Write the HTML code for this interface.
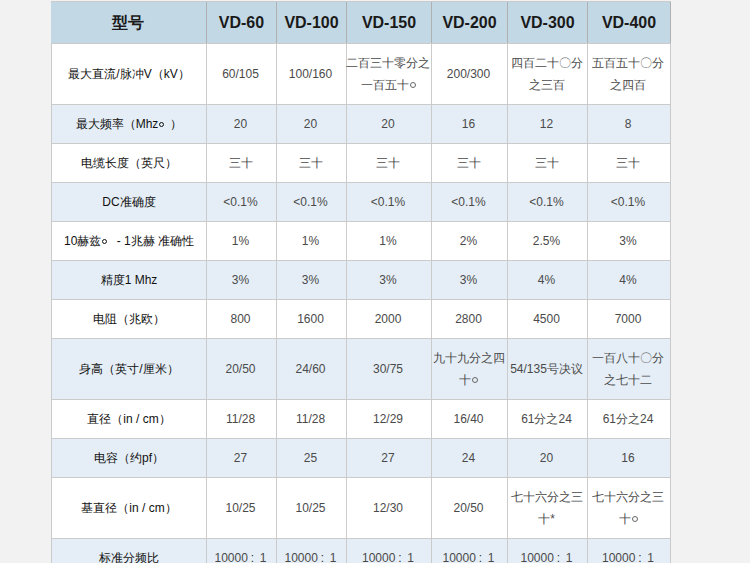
<!DOCTYPE html>
<html><head><meta charset="utf-8"><style>
html,body{margin:0;padding:0;width:750px;height:563px;overflow:hidden;background:#f2f2f2;}
body{position:relative;font-family:"Liberation Sans",sans-serif;}
.bg{position:absolute;}
.c{position:absolute;display:flex;align-items:center;justify-content:center;text-align:center;font-size:12px;line-height:22px;color:#4a4a4a;white-space:nowrap;}
.k{color:#111;}
.o{display:inline-block;box-sizing:border-box;width:5px;height:5px;border:1px solid #111;border-radius:50%;margin:0 6px 0 1px;vertical-align:1px;}
.d{display:inline-block;box-sizing:border-box;width:6px;height:6px;border:1px solid #666;border-radius:50%;margin:0 0 0 1px;vertical-align:1px;}
.cl{display:inline-block;width:12px;text-align:left;padding-left:3px;box-sizing:border-box;color:#333;}
.h{font-size:16px;font-weight:bold;color:#1a1a1a;}
.hl{position:absolute;height:1px;background:#cbcbcb;}
.vl{position:absolute;width:1px;background:#cbcbcb;}
</style></head><body>

<div class="bg" style="left:51px;top:1px;width:620px;height:42px;background:#c3d8e5"></div>
<div class="bg" style="left:51px;top:43px;width:620px;height:61px;background:#ffffff"></div>
<div class="bg" style="left:51px;top:104px;width:620px;height:39px;background:#e5eef6"></div>
<div class="bg" style="left:51px;top:143px;width:620px;height:39px;background:#ffffff"></div>
<div class="bg" style="left:51px;top:182px;width:620px;height:39px;background:#e5eef6"></div>
<div class="bg" style="left:51px;top:221px;width:620px;height:39px;background:#ffffff"></div>
<div class="bg" style="left:51px;top:260px;width:620px;height:39px;background:#e5eef6"></div>
<div class="bg" style="left:51px;top:299px;width:620px;height:39px;background:#ffffff"></div>
<div class="bg" style="left:51px;top:338px;width:620px;height:61px;background:#e5eef6"></div>
<div class="bg" style="left:51px;top:399px;width:620px;height:39px;background:#ffffff"></div>
<div class="bg" style="left:51px;top:438px;width:620px;height:39px;background:#e5eef6"></div>
<div class="bg" style="left:51px;top:477px;width:620px;height:61px;background:#ffffff"></div>
<div class="bg" style="left:51px;top:538px;width:620px;height:39px;background:#e5eef6"></div>
<div class="hl" style="left:51px;top:1px;width:620px"></div>
<div class="hl" style="left:51px;top:43px;width:620px"></div>
<div class="hl" style="left:51px;top:104px;width:620px"></div>
<div class="hl" style="left:51px;top:143px;width:620px"></div>
<div class="hl" style="left:51px;top:182px;width:620px"></div>
<div class="hl" style="left:51px;top:221px;width:620px"></div>
<div class="hl" style="left:51px;top:260px;width:620px"></div>
<div class="hl" style="left:51px;top:299px;width:620px"></div>
<div class="hl" style="left:51px;top:338px;width:620px"></div>
<div class="hl" style="left:51px;top:399px;width:620px"></div>
<div class="hl" style="left:51px;top:438px;width:620px"></div>
<div class="hl" style="left:51px;top:477px;width:620px"></div>
<div class="hl" style="left:51px;top:538px;width:620px"></div>
<div class="hl" style="left:51px;top:577px;width:620px"></div>
<div class="vl" style="left:51px;top:2px;height:41px;background:#c3d8e5"></div>
<div class="vl" style="left:51px;top:43px;height:534px"></div>
<div class="vl" style="left:206px;top:2px;height:41px;background:#b0b0b0"></div>
<div class="vl" style="left:206px;top:43px;height:534px"></div>
<div class="vl" style="left:276px;top:2px;height:41px;background:#b0b0b0"></div>
<div class="vl" style="left:276px;top:43px;height:534px"></div>
<div class="vl" style="left:346px;top:2px;height:41px;background:#b0b0b0"></div>
<div class="vl" style="left:346px;top:43px;height:534px"></div>
<div class="vl" style="left:431px;top:2px;height:41px;background:#b0b0b0"></div>
<div class="vl" style="left:431px;top:43px;height:534px"></div>
<div class="vl" style="left:507px;top:2px;height:41px;background:#b0b0b0"></div>
<div class="vl" style="left:507px;top:43px;height:534px"></div>
<div class="vl" style="left:587px;top:2px;height:41px;background:#b0b0b0"></div>
<div class="vl" style="left:587px;top:43px;height:534px"></div>
<div class="vl" style="left:670px;top:2px;height:41px;background:#b0b0b0"></div>
<div class="vl" style="left:670px;top:43px;height:534px"></div>
<div class="c h" style="left:52px;top:2px;width:154px;height:41px"><div><span style="position:relative;left:-1px">型号</span></div></div>
<div class="c h" style="left:207px;top:2px;width:69px;height:41px"><div>VD-60</div></div>
<div class="c h" style="left:277px;top:2px;width:69px;height:41px"><div>VD-100</div></div>
<div class="c h" style="left:347px;top:2px;width:84px;height:41px"><div>VD-150</div></div>
<div class="c h" style="left:432px;top:2px;width:75px;height:41px"><div>VD-200</div></div>
<div class="c h" style="left:508px;top:2px;width:79px;height:41px"><div>VD-300</div></div>
<div class="c h" style="left:588px;top:2px;width:82px;height:41px"><div>VD-400</div></div>
<div class="c k" style="left:52px;top:44px;width:154px;height:60px"><div>最大直流/脉冲V（kV）</div></div>
<div class="c" style="left:206px;top:44px;width:69px;height:60px"><div>60/105</div></div>
<div class="c" style="left:276px;top:44px;width:69px;height:60px"><div>100/160</div></div>
<div class="c" style="left:346px;top:44px;width:84px;height:60px"><div>二百三十零分之<br>一百五十<span class="d"></span></div></div>
<div class="c" style="left:431px;top:44px;width:75px;height:60px"><div>200/300</div></div>
<div class="c" style="left:507px;top:44px;width:79px;height:60px"><div>四百二十〇分<br>之三百</div></div>
<div class="c" style="left:587px;top:44px;width:82px;height:60px"><div>五百五十〇分<br>之四百</div></div>
<div class="c k" style="left:52px;top:105px;width:154px;height:38px"><div>最大频率（Mhz<span class="o"></span>）</div></div>
<div class="c" style="left:206px;top:105px;width:69px;height:38px"><div>20</div></div>
<div class="c" style="left:276px;top:105px;width:69px;height:38px"><div>20</div></div>
<div class="c" style="left:346px;top:105px;width:84px;height:38px"><div>20</div></div>
<div class="c" style="left:431px;top:105px;width:75px;height:38px"><div>16</div></div>
<div class="c" style="left:507px;top:105px;width:79px;height:38px"><div>12</div></div>
<div class="c" style="left:587px;top:105px;width:82px;height:38px"><div>8</div></div>
<div class="c k" style="left:52px;top:144px;width:154px;height:38px"><div>电缆长度（英尺）</div></div>
<div class="c" style="left:206px;top:144px;width:69px;height:38px"><div>三十</div></div>
<div class="c" style="left:276px;top:144px;width:69px;height:38px"><div>三十</div></div>
<div class="c" style="left:346px;top:144px;width:84px;height:38px"><div>三十</div></div>
<div class="c" style="left:431px;top:144px;width:75px;height:38px"><div>三十</div></div>
<div class="c" style="left:507px;top:144px;width:79px;height:38px"><div>三十</div></div>
<div class="c" style="left:587px;top:144px;width:82px;height:38px"><div>三十</div></div>
<div class="c k" style="left:52px;top:183px;width:154px;height:38px"><div>DC准确度</div></div>
<div class="c" style="left:206px;top:183px;width:69px;height:38px"><div>&lt;0.1%</div></div>
<div class="c" style="left:276px;top:183px;width:69px;height:38px"><div>&lt;0.1%</div></div>
<div class="c" style="left:346px;top:183px;width:84px;height:38px"><div>&lt;0.1%</div></div>
<div class="c" style="left:431px;top:183px;width:75px;height:38px"><div>&lt;0.1%</div></div>
<div class="c" style="left:507px;top:183px;width:79px;height:38px"><div>&lt;0.1%</div></div>
<div class="c" style="left:587px;top:183px;width:82px;height:38px"><div>&lt;0.1%</div></div>
<div class="c k" style="left:52px;top:222px;width:154px;height:38px"><div>10赫兹<span class="o"></span> - 1兆赫 准确性</div></div>
<div class="c" style="left:206px;top:222px;width:69px;height:38px"><div>1%</div></div>
<div class="c" style="left:276px;top:222px;width:69px;height:38px"><div>1%</div></div>
<div class="c" style="left:346px;top:222px;width:84px;height:38px"><div>1%</div></div>
<div class="c" style="left:431px;top:222px;width:75px;height:38px"><div>2%</div></div>
<div class="c" style="left:507px;top:222px;width:79px;height:38px"><div>2.5%</div></div>
<div class="c" style="left:587px;top:222px;width:82px;height:38px"><div>3%</div></div>
<div class="c k" style="left:52px;top:261px;width:154px;height:38px"><div>精度1 Mhz</div></div>
<div class="c" style="left:206px;top:261px;width:69px;height:38px"><div>3%</div></div>
<div class="c" style="left:276px;top:261px;width:69px;height:38px"><div>3%</div></div>
<div class="c" style="left:346px;top:261px;width:84px;height:38px"><div>3%</div></div>
<div class="c" style="left:431px;top:261px;width:75px;height:38px"><div>3%</div></div>
<div class="c" style="left:507px;top:261px;width:79px;height:38px"><div>4%</div></div>
<div class="c" style="left:587px;top:261px;width:82px;height:38px"><div>4%</div></div>
<div class="c k" style="left:52px;top:300px;width:154px;height:38px"><div>电阻（兆欧）</div></div>
<div class="c" style="left:206px;top:300px;width:69px;height:38px"><div>800</div></div>
<div class="c" style="left:276px;top:300px;width:69px;height:38px"><div>1600</div></div>
<div class="c" style="left:346px;top:300px;width:84px;height:38px"><div>2000</div></div>
<div class="c" style="left:431px;top:300px;width:75px;height:38px"><div>2800</div></div>
<div class="c" style="left:507px;top:300px;width:79px;height:38px"><div>4500</div></div>
<div class="c" style="left:587px;top:300px;width:82px;height:38px"><div>7000</div></div>
<div class="c k" style="left:52px;top:339px;width:154px;height:60px"><div>身高（英寸/厘米）</div></div>
<div class="c" style="left:206px;top:339px;width:69px;height:60px"><div>20/50</div></div>
<div class="c" style="left:276px;top:339px;width:69px;height:60px"><div>24/60</div></div>
<div class="c" style="left:346px;top:339px;width:84px;height:60px"><div>30/75</div></div>
<div class="c" style="left:431px;top:339px;width:75px;height:60px"><div>九十九分之四<br>十<span class="d"></span></div></div>
<div class="c" style="left:507px;top:339px;width:79px;height:60px"><div>54/135号决议</div></div>
<div class="c" style="left:587px;top:339px;width:82px;height:60px"><div>一百八十〇分<br>之七十二</div></div>
<div class="c k" style="left:52px;top:400px;width:154px;height:38px"><div>直径（in / cm）</div></div>
<div class="c" style="left:206px;top:400px;width:69px;height:38px"><div>11/28</div></div>
<div class="c" style="left:276px;top:400px;width:69px;height:38px"><div>11/28</div></div>
<div class="c" style="left:346px;top:400px;width:84px;height:38px"><div>12/29</div></div>
<div class="c" style="left:431px;top:400px;width:75px;height:38px"><div>16/40</div></div>
<div class="c" style="left:507px;top:400px;width:79px;height:38px"><div>61分之24</div></div>
<div class="c" style="left:587px;top:400px;width:82px;height:38px"><div>61分之24</div></div>
<div class="c k" style="left:52px;top:439px;width:154px;height:38px"><div>电容（约pf）</div></div>
<div class="c" style="left:206px;top:439px;width:69px;height:38px"><div>27</div></div>
<div class="c" style="left:276px;top:439px;width:69px;height:38px"><div>25</div></div>
<div class="c" style="left:346px;top:439px;width:84px;height:38px"><div>27</div></div>
<div class="c" style="left:431px;top:439px;width:75px;height:38px"><div>24</div></div>
<div class="c" style="left:507px;top:439px;width:79px;height:38px"><div>20</div></div>
<div class="c" style="left:587px;top:439px;width:82px;height:38px"><div>16</div></div>
<div class="c k" style="left:52px;top:478px;width:154px;height:60px"><div>基直径（in / cm）</div></div>
<div class="c" style="left:206px;top:478px;width:69px;height:60px"><div>10/25</div></div>
<div class="c" style="left:276px;top:478px;width:69px;height:60px"><div>10/25</div></div>
<div class="c" style="left:346px;top:478px;width:84px;height:60px"><div>12/30</div></div>
<div class="c" style="left:431px;top:478px;width:75px;height:60px"><div>20/50</div></div>
<div class="c" style="left:507px;top:478px;width:79px;height:60px"><div>七十六分之三<br>十*</div></div>
<div class="c" style="left:587px;top:478px;width:82px;height:60px"><div>七十六分之三<br>十<span class="d"></span></div></div>
<div class="c k" style="left:52px;top:539px;width:154px;height:38px"><div>标准分频比</div></div>
<div class="c" style="left:206px;top:539px;width:69px;height:38px"><div>10000<span class="cl">:</span>1</div></div>
<div class="c" style="left:276px;top:539px;width:69px;height:38px"><div>10000<span class="cl">:</span>1</div></div>
<div class="c" style="left:346px;top:539px;width:84px;height:38px"><div>10000<span class="cl">:</span>1</div></div>
<div class="c" style="left:431px;top:539px;width:75px;height:38px"><div>10000<span class="cl">:</span>1</div></div>
<div class="c" style="left:507px;top:539px;width:79px;height:38px"><div>10000<span class="cl">:</span>1</div></div>
<div class="c" style="left:587px;top:539px;width:82px;height:38px"><div>10000<span class="cl">:</span>1</div></div>
</body></html>
